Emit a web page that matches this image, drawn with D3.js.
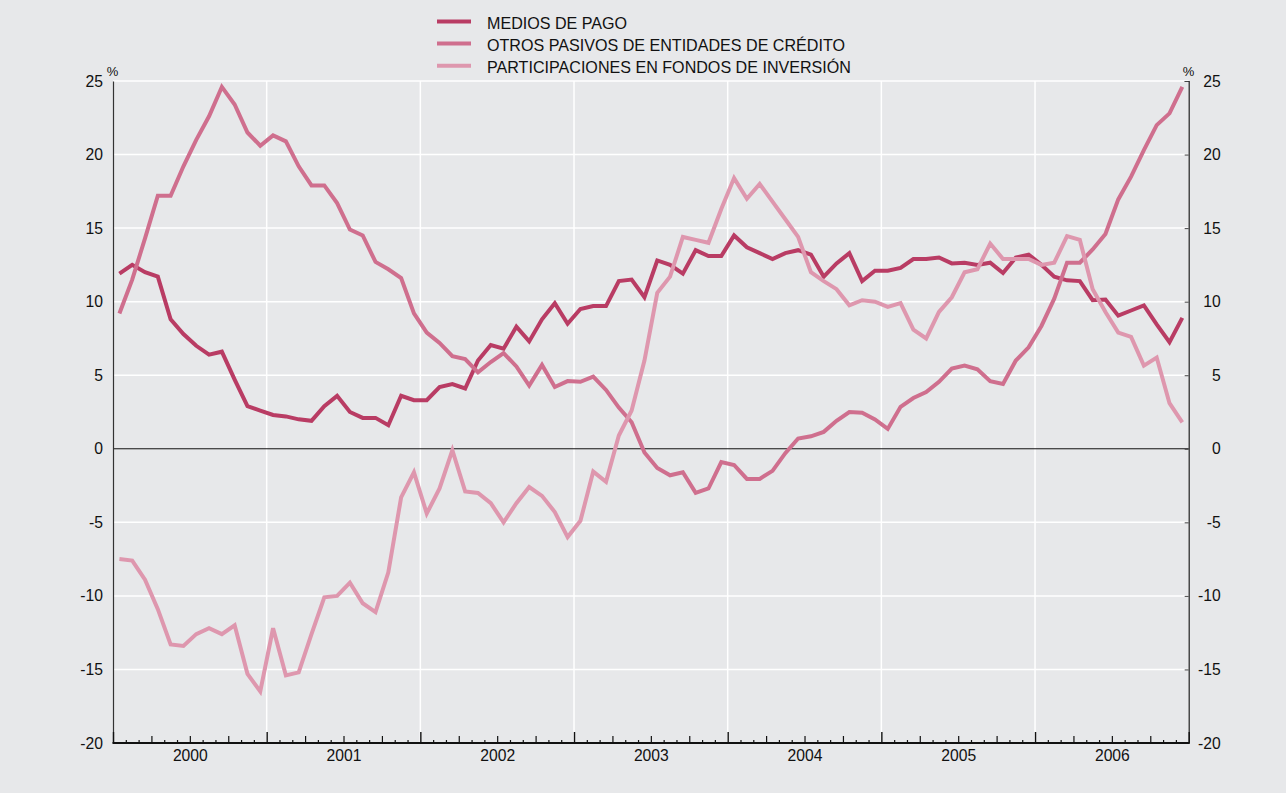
<!DOCTYPE html>
<html>
<head>
<meta charset="utf-8">
<script src="https://cdn.jsdelivr.net/npm/d3@7"></script>
<style>
  body { margin: 0; background: #e7e8ea; }
  svg { display: block; font-family: "Liberation Sans", Arial, Helvetica, sans-serif; }
</style>
</head>
<body>
<svg id="chart" width="1286" height="793"></svg>
<script>
// Year categories on the x axis (one segment of 12 monthly observations each)
const years = ["2000", "2001", "2002", "2003", "2004", "2005", "2006"];

// Monthly year-on-year growth rates, %, January 2000 to December 2006
const mediosDePago = [
  11.9, 12.5, 12.0, 11.7, 8.8, 7.8, 7.0, 6.4, 6.6, 4.7, 2.9, 2.6,
  2.3, 2.2, 2.0, 1.9, 2.9, 3.6, 2.5, 2.1, 2.1, 1.6, 3.6, 3.3,
  3.3, 4.2, 4.4, 4.1, 6.0, 7.05, 6.8, 8.3, 7.3, 8.8, 9.9, 8.5,
  9.5, 9.7, 9.7, 11.4, 11.5, 10.3, 12.8, 12.5, 11.9, 13.5, 13.1, 13.1,
  14.5, 13.7, 13.3, 12.9, 13.3, 13.5, 13.2, 11.7, 12.6, 13.3, 11.4, 12.1,
  12.1, 12.3, 12.9, 12.9, 13.0, 12.6, 12.65, 12.5, 12.65, 11.95, 13.0, 13.2,
  12.5, 11.7, 11.45, 11.4, 10.1, 10.15, 9.05, 9.4, 9.75, 8.45, 7.25, 8.9
];
const otrosPasivos = [
  9.2, 11.5, 14.3, 17.2, 17.2, 19.2, 21.0, 22.6, 24.6, 23.4, 21.5, 20.6,
  21.3, 20.9, 19.2, 17.9, 17.9, 16.7, 14.9, 14.5, 12.7, 12.2, 11.6, 9.2,
  7.9, 7.2, 6.3, 6.1, 5.2, 5.9, 6.5, 5.6, 4.3, 5.7, 4.2, 4.6,
  4.55, 4.9, 4.0, 2.8, 1.8, -0.25, -1.3, -1.8, -1.6, -3.0, -2.7, -0.9,
  -1.1, -2.05, -2.05, -1.5, -0.3, 0.7, 0.85, 1.15, 1.9, 2.5, 2.45, 2.0,
  1.35, 2.85, 3.45, 3.85, 4.55, 5.45, 5.65, 5.4, 4.6, 4.4, 6.0, 6.9,
  8.35, 10.2, 12.65, 12.65, 13.55, 14.6, 16.95, 18.5, 20.3, 22.0, 22.8, 24.6
];
const fondosInversion = [
  -7.5, -7.6, -8.9, -10.9, -13.3, -13.4, -12.6, -12.2, -12.6, -12.0, -15.3, -16.5,
  -12.2, -15.4, -15.2, -12.6, -10.1, -10.0, -9.1, -10.5, -11.1, -8.4, -3.3, -1.6,
  -4.4, -2.7, -0.1, -2.9, -3.0, -3.7, -5.0, -3.7, -2.6, -3.2, -4.3, -6.0,
  -4.9, -1.55, -2.25, 0.9, 2.6, 6.0, 10.6, 11.7, 14.4, 14.2, 14.0, 16.3,
  18.4, 17.0, 18.0, 16.8, 15.6, 14.4, 12.0, 11.4, 10.85, 9.75, 10.1, 10.0,
  9.65, 9.9, 8.1, 7.5, 9.3, 10.3, 12.0, 12.2, 13.95, 12.9, 12.9, 12.9,
  12.5, 12.65, 14.45, 14.2, 10.85, 9.3, 7.9, 7.6, 5.65, 6.2, 3.1, 1.8
];

// Value-axis tick labels
const yTicks = [25, 20, 15, 10, 5, 0, -5, -10, -15, -20];

// Series names (legend) and colours
const seriesNames = [
  "MEDIOS DE PAGO",
  "OTROS PASIVOS DE ENTIDADES DE CRÉDITO",
  "PARTICIPACIONES EN FONDOS DE INVERSIÓN"
];
const seriesColors = ["#b93c64", "#cf6f8e", "#de97ae"];
const seriesData = [mediosDePago, otrosPasivos, fondosInversion];

// ---- layout ----
const plotLeft = 113, plotRight = 1188.7, plotTop = 81, plotBottom = 743;
const nMonths = years.length * 12;
const fontSize = 15.7;
const legendFontSize = 16.1;
const numFmt = d => String(d);   // plain hyphen for negatives

const svg = d3.select("#chart");
svg.append("rect").attr("width", 1286).attr("height", 793).attr("fill", "#e7e8ea");

const x = d3.scaleLinear().domain([0, nMonths]).range([plotLeft, plotRight]);
const y = d3.scaleLinear().domain([-20, 25]).range([plotBottom, plotTop]);

// ---- grid ----
const grid = svg.append("g");
grid.selectAll("line.h")
  .data(yTicks.filter(v => v !== 0 && v !== -20))
  .join("line")
  .attr("x1", plotLeft).attr("x2", plotRight)
  .attr("y1", d => y(d)).attr("y2", d => y(d))
  .attr("stroke", "#ffffff").attr("stroke-width", 1.5);

grid.selectAll("line.v")
  .data(d3.range(1, years.length).map(k => k * 12))
  .join("line")
  .attr("x1", d => x(d)).attr("x2", d => x(d))
  .attr("y1", plotTop).attr("y2", plotBottom)
  .attr("stroke", "#ffffff").attr("stroke-width", 1.5);

// zero line
svg.append("line")
  .attr("x1", plotLeft).attr("x2", plotRight)
  .attr("y1", y(0)).attr("y2", y(0))
  .attr("stroke", "#111").attr("stroke-width", 1);

// ---- series ----
const line = d3.line()
  .x((d, i) => x(i + 0.5))
  .y(d => y(d));

svg.append("g").selectAll("path")
  .data(seriesData)
  .join("path")
  .attr("d", d => line(d))
  .attr("fill", "none")
  .attr("stroke", (d, i) => seriesColors[i])
  .attr("stroke-width", 4)
  .attr("stroke-linejoin", "miter")
  .attr("stroke-miterlimit", 4);

// ---- value axes ----
const leftAxis = svg.append("g")
  .attr("transform", `translate(${plotLeft},0)`)
  .call(d3.axisLeft(y).tickValues(yTicks).tickSize(0).tickPadding(10).tickFormat(numFmt));
leftAxis.select(".domain").attr("stroke", "#333").attr("stroke-width", 1.2);
leftAxis.selectAll("text").attr("font-size", fontSize).attr("fill", "#111")
  .attr("font-family", "Liberation Sans, Arial, sans-serif");

const rightAxis = svg.append("g")
  .attr("transform", `translate(${plotRight},0)`)
  .call(d3.axisRight(y).tickValues(yTicks).tickSize(-4).tickPadding(10).tickFormat(numFmt));
rightAxis.select(".domain").attr("stroke", "#222").attr("stroke-width", 1.2);
rightAxis.selectAll(".tick line").attr("stroke", "#444");
rightAxis.selectAll("text").attr("font-size", fontSize).attr("fill", "#111")
  .attr("text-anchor", "end").attr("x", 32)
  .attr("font-family", "Liberation Sans, Arial, sans-serif");

// % unit labels
svg.append("text").attr("x", 112.5).attr("y", 76).attr("text-anchor", "middle")
  .attr("font-size", 13).attr("fill", "#111").text("%");
svg.append("text").attr("x", 1188.5).attr("y", 76).attr("text-anchor", "middle")
  .attr("font-size", 13).attr("fill", "#111").text("%");

// ---- time axis: monthly, quarterly and yearly ticks pointing up ----
function tickAxis(values, size, width) {
  const g = svg.append("g")
    .attr("transform", `translate(0,${plotBottom})`)
    .call(d3.axisBottom(x).tickValues(values).tickSize(-size).tickFormat(""));
  g.select(".domain").remove();
  g.selectAll(".tick line").attr("stroke", "#111").attr("stroke-width", width);
  return g;
}
tickAxis(d3.range(0, nMonths + 1).filter(m => m % 3 !== 0), 3, 1.2);
tickAxis(d3.range(0, nMonths + 1).filter(m => m % 3 === 0 && m % 12 !== 0), 7, 1.2);
tickAxis(d3.range(0, nMonths + 1, 12), 11, 1.4);

svg.append("line")
  .attr("x1", plotLeft - 0.5).attr("x2", plotRight + 0.5)
  .attr("y1", plotBottom).attr("y2", plotBottom)
  .attr("stroke", "#111").attr("stroke-width", 2.2);

const yearAxis = svg.append("g")
  .attr("transform", `translate(0,${plotBottom})`)
  .call(d3.axisBottom(x)
    .tickValues(years.map((yr, k) => k * 12 + 6))
    .tickSize(0).tickPadding(7)
    .tickFormat((d, k) => years[k]));
yearAxis.select(".domain").remove();
yearAxis.selectAll("text").attr("font-size", fontSize).attr("fill", "#111")
  .attr("font-family", "Liberation Sans, Arial, sans-serif");

// ---- legend ----
const legend = svg.append("g");
const legendRows = legend.selectAll("g")
  .data(seriesNames)
  .join("g")
  .attr("transform", (d, i) => `translate(0,${i * 22.1})`);
legendRows.append("line")
  .attr("x1", 437).attr("x2", 471)
  .attr("y1", 21.5).attr("y2", 21.5)
  .attr("stroke", (d, i) => seriesColors[i])
  .attr("stroke-width", 4);
legendRows.append("text")
  .attr("x", 487).attr("y", 29)
  .attr("font-size", legendFontSize).attr("fill", "#111")
  .text(d => d);
</script>
</body>
</html>
